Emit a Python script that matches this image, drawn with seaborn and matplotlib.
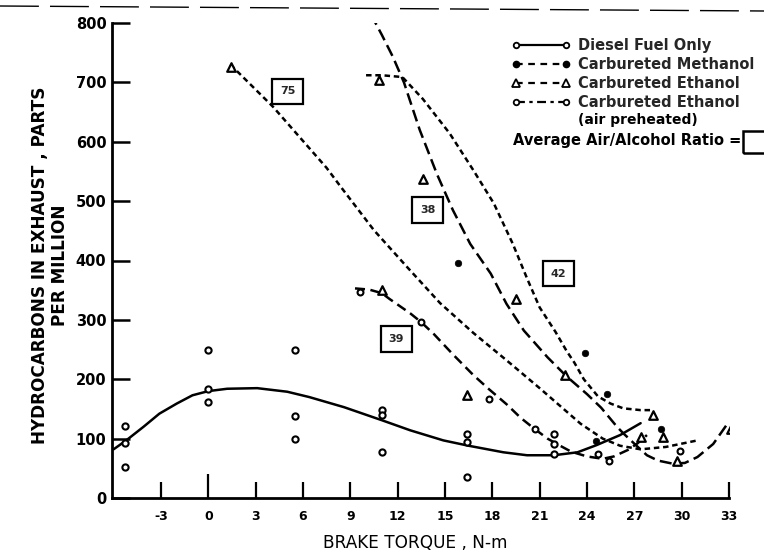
import matplotlib
matplotlib.use("Agg")
import matplotlib.pyplot as plt
from matplotlib.lines import Line2D
from matplotlib.patches import Rectangle
import seaborn as sns

# ---------------- data ----------------
x_ticks = [-3, 0, 3, 6, 9, 12, 15, 18, 21, 24, 27, 30, 33]
y_ticks = [0, 100, 200, 300, 400, 500, 600, 700, 800]

# fitted curves
diesel_curve_x = [-6.0, -5.2, -4.1, -3.1, -2.0, -1.0, 0.0, 1.2, 3.1, 5.0, 6.4, 8.6,
                  11.0, 12.8, 14.9, 16.5, 18.7, 20.2, 21.9, 23.4, 24.6, 26.1, 27.4]
diesel_curve_y = [82, 97, 120, 142, 159, 173, 180, 184, 185, 179, 170, 153,
                  131, 114, 97, 88, 77, 72, 72, 77, 89, 106, 126]

curve75_x = [1.4, 4.1, 7.5, 8.4, 10.5, 12.6, 14.7, 16.8, 18.9, 21.0, 22.3, 23.6,
             25.0, 26.1, 27.4, 29.0, 31.0]
curve75_y = [730, 659, 556, 524, 451, 389, 328, 278, 232, 185, 155, 125,
             100, 88, 82, 86, 97]

curve42_x = [10.0, 11.0, 12.3, 13.6, 15.3, 16.8, 18.1, 19.3, 20.2, 21.0, 22.0,
             22.7, 23.2, 23.8, 24.7, 25.5, 26.3, 27.4, 28.0]
curve42_y = [712, 712, 709, 672, 614, 552, 496, 428, 370, 321, 280,
             248, 228, 200, 171, 159, 151, 148, 148]

curve38_x = [10.3, 11.0, 11.7, 12.4, 13.4, 14.5, 15.5, 16.6, 17.9, 18.9, 20.0,
             21.5, 22.7, 24.0, 24.9, 25.9, 26.3, 27.1, 27.8, 28.5, 29.4, 30.2,
             31.0, 32.0, 32.9]
curve38_y = [815, 780, 743, 700, 620, 545, 485, 428, 378, 327, 282,
             237, 205, 175, 152, 120, 109, 89, 72, 63, 58, 59,
             69, 91, 125]

curve39_x = [9.3, 10.2, 11.0, 11.5, 12.8, 13.5, 14.3, 15.5, 16.8, 17.8, 18.9,
             19.8, 20.6, 21.5, 22.3, 23.0, 24.0, 25.0, 25.7, 26.6, 27.2, 27.8]
curve39_y = [353, 351, 345, 335, 311, 296, 276, 242, 207, 183, 158,
             135, 118, 100, 88, 78, 70, 66, 70, 81, 92, 106]

# measured points
diesel_pts_x = [-5.3, -5.3, -5.3, 0, 0, 0, 5.5, 5.5, 5.5, 11, 11, 11,
                16.4, 16.4, 16.4, 21.9, 21.9, 21.9]
diesel_pts_y = [122, 93, 53, 250, 183, 161, 249, 138, 99, 149, 140, 77,
                108, 95, 36, 107, 91, 74]

methanol_pts_x = [15.8, 23.9, 25.3, 28.7, 24.6]
methanol_pts_y = [396, 244, 175, 117, 96]

ethanol_pts_x = [1.45, 10.8, 13.6, 11.0, 16.4, 19.5, 22.6, 28.2, 28.8, 29.7, 33.1, 27.4]
ethanol_pts_y = [726, 704, 538, 350, 173, 336, 207, 139, 103, 62, 116, 103]

preheated_pts_x = [9.6, 13.5, 17.8, 20.7, 24.7, 25.4, 29.9]
preheated_pts_y = [347, 296, 166, 116, 74, 62, 80]

# air/alcohol ratio labels
ratio_labels = ["75", "38", "39", "42"]
ratio_x = [5.05, 13.9, 11.9, 22.2]
ratio_y = [685, 485, 268, 378]

legend_labels = ["Diesel Fuel Only", "Carbureted Methanol",
                 "Carbureted Ethanol", "Carbureted Ethanol"]

# ---------------- figure ----------------
sns.set_style("ticks")
plt.rcParams["font.family"] = ["DejaVu Sans"]

W, H = 764, 554
fig = plt.figure(figsize=(W / 100, H / 100), dpi=100)
ax = fig.add_axes([112 / W, (H - 498) / H, (729 - 112) / W, (498 - 23) / H])

K = "black"
short_dash = (0, (2.2, 1.5))
long_dash = (0, (4.8, 2.2))
mid_dash = (0, (4.0, 2.2))


def curve(xs, ys, style):
    sns.lineplot(x=xs, y=ys, ax=ax, sort=False, estimator=None, color=K, lw=1.8)
    ln = ax.lines[-1]
    ln.set_linestyle(style)
    ln.set_dash_capstyle("butt")


curve(diesel_curve_x, diesel_curve_y, "-")
curve(curve75_x, curve75_y, short_dash)
curve(curve42_x, curve42_y, short_dash)
curve(curve38_x, curve38_y, long_dash)
curve(curve39_x, curve39_y, mid_dash)

sns.scatterplot(x=diesel_pts_x, y=diesel_pts_y, ax=ax, marker="o", s=20,
                facecolor="white", edgecolor=K, linewidth=1.5, zorder=5)
sns.scatterplot(x=methanol_pts_x, y=methanol_pts_y, ax=ax, marker="o", s=22,
                color=K, edgecolor=K, linewidth=0.5, zorder=5)
sns.scatterplot(x=ethanol_pts_x, y=ethanol_pts_y, ax=ax, marker="^", s=38,
                facecolor="white", edgecolor=K, linewidth=1.6, zorder=5)
sns.scatterplot(x=preheated_pts_x, y=preheated_pts_y, ax=ax, marker="o", s=18,
                facecolor="white", edgecolor=K, linewidth=1.5, zorder=5)

for t, tx, ty in zip(ratio_labels, ratio_x, ratio_y):
    ax.text(tx, ty, t, ha="center", va="center", fontsize=8, fontweight="bold",
            bbox=dict(boxstyle="square,pad=0.7", fc="white", ec=K, lw=1.6), zorder=6)

# axes styling
ax.set_xlim(-6.1, 33.0)
ax.set_ylim(0, 800)
ax.set_xticks(x_ticks)
ax.set_yticks(y_ticks)
ax.set_xticklabels([str(v) for v in x_ticks], fontsize=9, fontweight="bold")
ax.set_yticklabels([str(v) for v in y_ticks], fontsize=10.5, fontweight="bold")
sns.despine(ax=ax, top=True, right=True)
for s in ["left", "bottom"]:
    ax.spines[s].set_linewidth(2.0)
    ax.spines[s].set_color(K)
ax.tick_params(axis="x", direction="in", length=11.5, width=1.6, pad=9, colors=K)
ax.tick_params(axis="y", direction="in", length=13, width=1.8, pad=4, colors=K)
ax.xaxis.get_major_ticks()[1].tick1line.set_markersize(17)
ax.set_xlabel("")
ax.set_ylabel("")
ax.grid(False)

fig.text(415 / W, 1 - 543 / H, "BRAKE TORQUE , N-m", ha="center", va="center",
         fontsize=12.2, color=K)
fig.text(50 / W, 1 - 265 / H, "HYDROCARBONS IN EXHAUST , PARTS\nPER MILLION",
         rotation=90, ha="center", va="center", multialignment="center",
         fontsize=12.2, fontweight="bold", linespacing=1.08, color=K)

# legend
handles = [
    Line2D([], [], color=K, lw=1.6, ls="-", marker="o", ms=4, mfc="white", mec=K, mew=1.3),
    Line2D([], [], color=K, lw=1.6, ls=(0, (3, 2.5)), marker="o", ms=4.5, mfc=K, mec=K),
    Line2D([], [], color=K, lw=1.6, ls=(0, (3, 2.5)), marker="^", ms=6, mfc="white", mec=K, mew=1.3),
    Line2D([], [], color=K, lw=1.6, ls=(0, (4, 2, 1.5, 2)), marker="o", ms=4, mfc="white", mec=K, mew=1.3),
]
leg = ax.legend(handles, legend_labels, loc="upper left",
                bbox_to_anchor=(512 / W, 1 - 38 / H), bbox_transform=fig.transFigure,
                frameon=False, handlelength=4.0, handletextpad=0.55, labelspacing=0.27,
                borderpad=0, borderaxespad=0, numpoints=2,
                prop=dict(weight="bold", size=10.5))

fig.text(578 / W, 1 - 120 / H, "(air preheated)", ha="left", va="center",
         fontsize=10, fontweight="bold", color=K)
fig.text(513 / W, 1 - 140 / H, "Average Air/Alcohol Ratio =", ha="left", va="center",
         fontsize=10.5, fontweight="bold", color=K)
fig.add_artist(Rectangle((743 / W, 1 - 153 / H), 30 / W, 22 / H, transform=fig.transFigure,
                         fill=False, ec=K, lw=1.8, clip_on=False))

# scan border line along the top edge
fig.add_artist(Line2D([0, 1], [1 - 6 / H, 1 - 11 / H], transform=fig.transFigure,
                      color=K, lw=1.0, ls=(0, (28, 8))))

fig.savefig("out.png", dpi=100, facecolor="white")
